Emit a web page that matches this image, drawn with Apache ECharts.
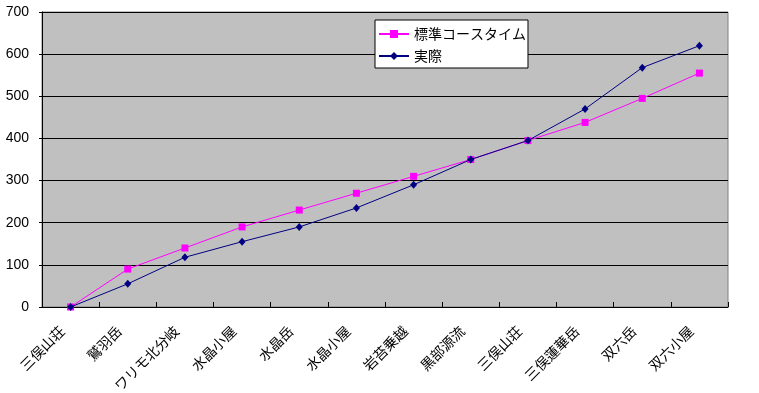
<!DOCTYPE html>
<html><head><meta charset="utf-8">
<script src="https://cdn.jsdelivr.net/npm/echarts@6/dist/echarts.min.js"></script>
<style>html,body{margin:0;padding:0;background:#fff}#c{width:759px;height:393px}</style>
</head><body><div id="c"></div>
<script>
var categories = ['三俣山荘','鷲羽岳','ワリモ北分岐','水晶小屋','水晶岳','水晶小屋','岩苔乗越','黒部源流','三俣山荘','三俣蓮華岳','双六岳','双六小屋'];
var standardTime = [0, 90, 140, 190, 230, 270, 310, 350, 395, 438, 495, 555];
var actualTime = [0, 55, 118, 155, 190, 235, 290, 350, 395, 470, 568, 620];
var yTicks = [0, 100, 200, 300, 400, 500, 600, 700];
var font = '"Noto Sans CJK JP", sans-serif';
var chart = echarts.init(document.getElementById('c'));
chart.setOption({
  backgroundColor: '#ffffff',
  animation: false,
  textStyle: {fontFamily: font},
  grid: {left: 42, right: 31, top: 12, bottom: 86, show: true, backgroundColor: '#C0C0C0', borderColor: '#808080', borderWidth: 1, outerBoundsMode: 'none', containLabel: false},
  legend: {
    left: 375, top: 20, orient: 'vertical',
    backgroundColor: '#ffffff', borderColor: '#000000', borderWidth: 1,
    padding: [6, 2, 4, 3], itemGap: 6, itemWidth: 30, itemHeight: 10,
    textStyle: {fontFamily: font, fontSize: 14, color: '#000', lineHeight: 16},
    data: ['標準コースタイム', '実際']
  },
  xAxis: {
    type: 'category', data: categories, boundaryGap: true,
    axisLine: {lineStyle: {color: '#000', width: 1}},
    axisTick: {show: true, inside: true, length: 5, lineStyle: {color: '#000'}},
    axisLabel: {rotate: 45, margin: 13, fontSize: 14, color: '#000', fontFamily: font, interval: 0, padding: [0, 12, 0, 0]},
    splitLine: {show: false}
  },
  yAxis: {
    type: 'value', min: yTicks[0], max: yTicks[yTicks.length - 1], interval: 100,
    axisLine: {show: true, lineStyle: {color: '#000'}},
    axisTick: {show: true, length: 3, lineStyle: {color: '#000'}},
    axisLabel: {fontSize: 14, color: '#000', fontFamily: 'Arial, "Liberation Sans", sans-serif', margin: 13},
    splitLine: {show: true, lineStyle: {color: '#000', width: 1}}
  },
  series: [
    {name: '標準コースタイム', type: 'line', data: standardTime, symbol: 'rect', symbolSize: 7,
     lineStyle: {color: '#FF00FF', width: 1}, itemStyle: {color: '#FF00FF'}, z: 2},
    {name: '実際', type: 'line', data: actualTime, symbol: 'diamond', symbolSize: [7, 8],
     lineStyle: {color: '#000080', width: 1}, itemStyle: {color: '#000080'}, z: 3}
  ]
});
</script></body></html>
